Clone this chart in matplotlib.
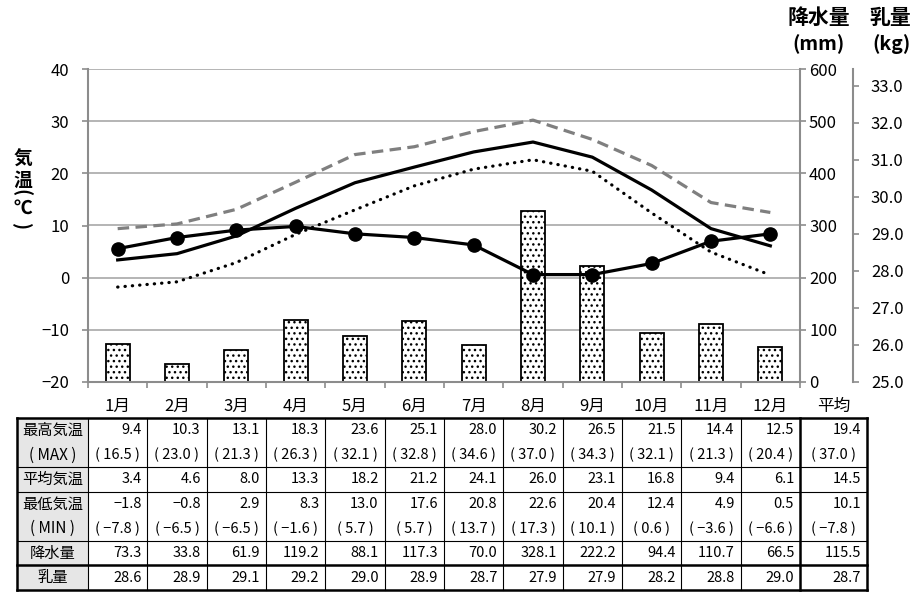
import matplotlib
matplotlib.use("Agg")
import matplotlib.pyplot as plt
from matplotlib.patches import Rectangle
from matplotlib.transforms import blended_transform_factory

plt.rcParams['font.family'] = ['Noto Sans CJK JP', 'DejaVu Sans']

# monthly data
months = ['1月', '2月', '3月', '4月', '5月', '6月', '7月', '8月', '9月', '10月', '11月', '12月']
max_temp = [9.4, 10.3, 13.1, 18.3, 23.6, 25.1, 28.0, 30.2, 26.5, 21.5, 14.4, 12.5]
max_extreme = [16.5, 23.0, 21.3, 26.3, 32.1, 32.8, 34.6, 37.0, 34.3, 32.1, 21.3, 20.4]
mean_temp = [3.4, 4.6, 8.0, 13.3, 18.2, 21.2, 24.1, 26.0, 23.1, 16.8, 9.4, 6.1]
min_temp = [-1.8, -0.8, 2.9, 8.3, 13.0, 17.6, 20.8, 22.6, 20.4, 12.4, 4.9, 0.5]
min_extreme = [-7.8, -6.5, -6.5, -1.6, 5.7, 5.7, 13.7, 17.3, 10.1, 0.6, -3.6, -6.6]
precip = [73.3, 33.8, 61.9, 119.2, 88.1, 117.3, 70.0, 328.1, 222.2, 94.4, 110.7, 66.5]
milk = [28.6, 28.9, 29.1, 29.2, 29.0, 28.9, 28.7, 27.9, 27.9, 28.2, 28.8, 29.0]

# annual column of the table
avg_label = '平均'
max_temp_avg = 19.4
max_extreme_avg = 37.0
mean_temp_avg = 14.5
min_temp_avg = 10.1
min_extreme_avg = -7.8
precip_avg = 115.5
milk_avg = 28.7

row_labels = ['最高気温', '( MAX )', '平均気温', '最低気温', '( MIN )', '降水量', '乳量']

W, H = 914, 597
fig = plt.figure(figsize=(W / 100, H / 100), dpi=100)

GRAY = '#8c8c8c'
x = list(range(len(months)))

# main (temperature) axes
ax = fig.add_axes([88 / W, 1 - 382 / H, 712 / W, 313 / H])
ax2 = ax.twinx()   # precipitation
ax3 = ax.twinx()   # milk

ax2.set_zorder(1)
ax.set_zorder(2)
ax3.set_zorder(3)
ax.patch.set_visible(False)
ax3.patch.set_visible(False)

# precipitation bars + grid
ax2.set_ylim(0, 600)
ax2.set_yticks(range(0, 601, 100))
ax2.yaxis.grid(True, color='#a8a8a8', lw=1.2)
ax2.set_axisbelow(True)
ax2.bar(x, precip, width=0.4, color='white', edgecolor='black', hatch='...',
        lw=1.3, zorder=3)

# temperature lines
ax.set_xlim(-0.5, 11.5)
ax.set_ylim(-20, 40)
ax.set_yticks(range(-20, 41, 10))
ax.plot(x, max_temp, color='#7f7f7f', lw=2.3, linestyle=(0, (3.6, 2.0)))
ax.plot(x, mean_temp, color='black', lw=2.3)
ax.plot(x, min_temp, color='black', lw=2.3, linestyle=(0, (0.1, 2.2)),
        dash_capstyle='round')

# milk line
ax3.set_ylim(25, 33.45)
ax3.set_yticks([25 + i for i in range(9)])
ax3.set_yticklabels([f'{25 + i:.1f}' for i in range(9)])
ax3.plot(x, milk, color='black', lw=2.3, marker='o', markersize=9.5)

# spines and ticks
for a in (ax, ax2, ax3):
    for s in a.spines.values():
        s.set_visible(False)
ax.spines['left'].set_visible(True)
ax.spines['bottom'].set_visible(True)
ax2.spines['right'].set_visible(True)
ax3.spines['right'].set_visible(True)
ax3.spines['right'].set_position(('outward', 38))
for s in (ax.spines['left'], ax.spines['bottom'], ax2.spines['right'], ax3.spines['right']):
    s.set_color(GRAY)
    s.set_linewidth(1.5)

ax.tick_params(axis='y', direction='out', length=4.5, width=1.2, color=GRAY,
               labelsize=12, pad=9)
ax2.tick_params(axis='y', direction='out', length=4.5, width=1.2, color=GRAY,
                labelsize=12, pad=2)
ax3.tick_params(axis='y', direction='out', length=4, width=1.2, color=GRAY,
                labelsize=12, pad=9)

ax.set_xticks(x)
ax.set_xticklabels([])
ax.tick_params(axis='x', which='major', length=0)
ax.set_xticks([i - 0.5 for i in range(13)], minor=True)
ax.tick_params(axis='x', which='minor', direction='out', length=4.5, width=1.2, color=GRAY)

# month header
lbl_tr = blended_transform_factory(ax.transData, ax.transAxes)
for i, m in enumerate(months):
    ax.text(i, -0.077, m, transform=lbl_tr, ha='center', va='center', fontsize=12)
col_w_px = 712 / 12
avg_w = 67 / col_w_px
lab_w = 71 / col_w_px
ax.text(11.5 + avg_w / 2, -0.077, avg_label, transform=lbl_tr, ha='center',
        va='center', fontsize=12, clip_on=False)

# axis titles (vertical Japanese, parentheses turned)
for ch, xx, yy, rot in [('気', 23, 159, 0), ('温', 23, 180, 0), ('(', 21, 193, 270),
                        ('℃', 23, 208, 0), (')', 21, 226, 270)]:
    fig.text(xx / W, 1 - yy / H, ch, ha='center', va='center', fontsize=13.5,
             fontweight='bold', rotation=rot)
fig.text(819 / W, 1 - 17 / H, '降水量', ha='center', va='center', fontsize=15, fontweight='bold')
fig.text(890 / W, 1 - 17 / H, '乳量', ha='center', va='center', fontsize=15, fontweight='bold')
fig.text(818 / W, 1 - 44 / H, '(mm)', ha='center', va='center', fontsize=14, fontweight='bold')
fig.text(891 / W, 1 - 44 / H, '(kg)', ha='center', va='center', fontsize=14, fontweight='bold')

# data table
tab = fig.add_axes([88 / W, 1 - 590 / H, 712 / W, 172 / H])
tab.set_xlim(-0.5, 11.5)
tab.set_ylim(7, 0)
tab.axis('off')

lab_left = -0.5 - lab_w
avg_right = 11.5 + avg_w
tab.add_patch(Rectangle((lab_left, 0), lab_w, 7, facecolor='#e6e6e6',
                        edgecolor='none', clip_on=False))


def fmt(v):
    return f'{v:.1f}'.replace('-', '−')


rows = [
    (max_temp + [max_temp_avg], False),
    (max_extreme + [max_extreme_avg], True),
    (mean_temp + [mean_temp_avg], False),
    (min_temp + [min_temp_avg], False),
    (min_extreme + [min_extreme_avg], True),
    (precip + [precip_avg], False),
    (milk + [milk_avg], False),
]

centers = list(x) + [11.5 + avg_w / 2]
rights = [i + 0.5 for i in x] + [avg_right]
for r, (vals, paren) in enumerate(rows):
    yc = r + 0.5
    tab.text(lab_left + lab_w / 2, yc, row_labels[r], ha='center', va='center',
             fontsize=11, clip_on=False)
    for j, v in enumerate(vals):
        if paren:
            tab.text(centers[j], yc, f'( {fmt(v)} )', ha='center', va='center',
                     fontsize=10.5, clip_on=False)
        else:
            tab.text(rights[j] - 0.1, yc, fmt(v), ha='right', va='center',
                     fontsize=10.5, clip_on=False)

thin, thick = 0.8, 1.8
for yy, lw in [(0, thick), (2, thin), (3, thin), (5, thin), (6, thick), (7, thick)]:
    tab.plot([lab_left, avg_right], [yy, yy], color='black', lw=lw, clip_on=False,
             solid_capstyle='projecting')
for xx in [i - 0.5 for i in range(12)]:
    tab.plot([xx, xx], [0, 7], color='black', lw=thin, clip_on=False)
for xx in [lab_left, 11.5, avg_right]:
    tab.plot([xx, xx], [0, 7], color='black', lw=thick, clip_on=False,
             solid_capstyle='projecting')

fig.savefig('out.png', dpi=100)
